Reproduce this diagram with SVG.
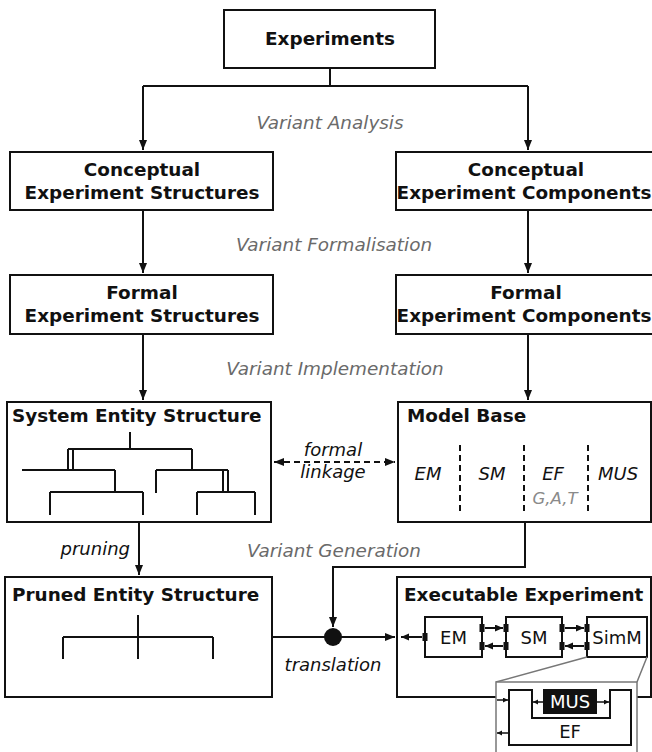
<svg xmlns="http://www.w3.org/2000/svg" width="652" height="752" viewBox="0 0 652 752">
<style>
.box{fill:#fff;stroke:#111;stroke-width:2}
.ln{fill:none;stroke:#111;stroke-width:2}
.b{font-family:"DejaVu Sans",sans-serif;font-weight:bold;font-size:18.4px;fill:#111}
.c{text-anchor:middle}
.lab{font-family:"DejaVu Sans",sans-serif;font-style:italic;font-size:18.4px;fill:#6a6a6a;text-anchor:middle}
.it{font-family:"DejaVu Sans",sans-serif;font-style:italic;font-size:18px;fill:#111}
.rg{font-family:"DejaVu Sans",sans-serif;font-size:18px;fill:#111;text-anchor:middle}
.port{fill:#111}
.gray{fill:none;stroke:#777;stroke-width:1.5}
</style>
<defs>
<marker id="ah" markerUnits="userSpaceOnUse" markerWidth="11" markerHeight="9" refX="10" refY="4" orient="auto"><path d="M0,0 L10,4 L0,8 z" fill="#111"/></marker>
<marker id="ahs" markerUnits="userSpaceOnUse" markerWidth="9" markerHeight="8" refX="8" refY="3.5" orient="auto"><path d="M0,0 L8,3.5 L0,7 z" fill="#111"/></marker>
<marker id="aht" markerUnits="userSpaceOnUse" markerWidth="6" markerHeight="6" refX="5" refY="2.5" orient="auto"><path d="M0,0 L5,2.5 L0,5 z" fill="#111"/></marker>
<marker id="ahb" markerUnits="userSpaceOnUse" markerWidth="11" markerHeight="9" refX="0" refY="4" orient="auto"><path d="M10,0 L0,4 L10,8 z" fill="#111"/></marker>
</defs>
<rect width="652" height="752" fill="#fff"/>

<g id="connectors">
<path class="ln" d="M330,68 V86 M143,86 H528"/>
<path class="ln" d="M143,86 V150" marker-end="url(#ah)"/>
<path class="ln" d="M528,86 V150" marker-end="url(#ah)"/>
<path class="ln" d="M143,210 V273" marker-end="url(#ah)"/>
<path class="ln" d="M528,210 V273" marker-end="url(#ah)"/>
<path class="ln" d="M143,334 V400" marker-end="url(#ah)"/>
<path class="ln" d="M528,334 V400" marker-end="url(#ah)"/>
<path class="ln" d="M139,522 V575" marker-end="url(#ah)"/>
<path class="ln" d="M274,462 H395" stroke-dasharray="6,4" marker-start="url(#ahb)" marker-end="url(#ah)"/>
<path class="ln" d="M525,522 V567 H333 V627" marker-end="url(#ah)"/>
<path class="ln" d="M272,637 H330"/>
<path class="ln" d="M340,637 H395" marker-end="url(#ah)"/>
<circle cx="333" cy="637" r="9" fill="#111"/>
</g>

<g id="labels">
<text class="lab" x="330" y="129">Variant Analysis</text>
<text class="lab" x="334" y="251">Variant Formalisation</text>
<text class="lab" x="335" y="375">Variant Implementation</text>
<text class="lab" x="334" y="557">Variant Generation</text>
<text class="it" x="130" y="555" text-anchor="end">pruning</text>
<text class="it" x="333" y="456" text-anchor="middle">formal</text>
<text class="it" x="333" y="478" text-anchor="middle">linkage</text>
<text class="it" x="333" y="671" text-anchor="middle">translation</text>
</g>

<g id="experiments">
<rect class="box" x="224" y="10" width="211" height="58"/>
<text class="b c" x="330" y="45">Experiments</text>
</g>

<g id="conceptual-structures">
<rect class="box" x="10" y="152" width="263" height="58"/>
<text class="b c" x="142" y="176">Conceptual</text>
<text class="b c" x="142" y="199">Experiment Structures</text>
</g>

<g id="conceptual-components">
<rect class="box" x="396" y="152" width="270" height="58"/>
<text class="b c" x="526" y="176">Conceptual</text>
<text class="b c" x="524" y="199">Experiment Components</text>
</g>

<g id="formal-structures">
<rect class="box" x="10" y="275" width="263" height="59"/>
<text class="b c" x="142" y="299">Formal</text>
<text class="b c" x="142" y="322">Experiment Structures</text>
</g>

<g id="formal-components">
<rect class="box" x="396" y="275" width="270" height="59"/>
<text class="b c" x="526" y="299">Formal</text>
<text class="b c" x="524" y="322">Experiment Components</text>
</g>

<g id="system-entity-structure">
<rect class="box" x="7" y="402" width="264" height="120"/>
<text class="b" x="12" y="422">System Entity Structure</text>
<path class="ln" d="M130,432 V449 M68,449 H192 M68,449 V470 M73,449 V470 M192,449 V470 M22,470 H115 M115,470 V492 M50,492 H143 M50,492 V515 M143,492 V515 M156,470 H228 M156,470 V493 M223,470 V492 M228,470 V492 M197,492 H255 M197,492 V515 M255,492 V515"/>
</g>

<g id="model-base">
<rect class="box" x="398" y="402" width="253" height="120"/>
<text class="b" x="407" y="422">Model Base</text>
<path class="ln" d="M460,445 V513 M524,445 V513 M588,445 V513" stroke-dasharray="6,4"/>
<text class="it" x="428" y="480" text-anchor="middle">EM</text>
<text class="it" x="492" y="480" text-anchor="middle">SM</text>
<text class="it" x="553" y="480" text-anchor="middle">EF</text>
<text class="it" x="618" y="480" text-anchor="middle">MUS</text>
<text class="it" x="555" y="504" text-anchor="middle" style="fill:#8a8a8a;font-size:16.5px">G,A,T</text>
</g>

<g id="pruned-entity-structure">
<rect class="box" x="5" y="577" width="267" height="120"/>
<text class="b" x="12" y="601">Pruned Entity Structure</text>
<path class="ln" d="M138,615 V659 M63,637 H213 M63,637 V659 M213,637 V659"/>
</g>

<g id="executable-experiment">
<rect class="box" x="397" y="577" width="254" height="120"/>
<text class="b" x="404" y="601">Executable Experiment</text>
<rect class="box" x="425" y="617" width="57" height="40"/>
<rect class="box" x="506" y="617" width="56" height="40"/>
<rect class="box" x="587" y="617" width="60" height="40"/>
<text class="rg" x="453.5" y="643.5">EM</text>
<text class="rg" x="534" y="643.5">SM</text>
<text class="rg" x="617" y="643.5">SimM</text>
<rect class="port" x="479.5" y="624" width="5" height="8"/>
<rect class="port" x="479.5" y="642" width="5" height="8"/>
<rect class="port" x="503.5" y="624" width="5" height="8"/>
<rect class="port" x="503.5" y="642" width="5" height="8"/>
<rect class="port" x="559.5" y="624" width="5" height="8"/>
<rect class="port" x="559.5" y="642" width="5" height="8"/>
<rect class="port" x="584.5" y="624" width="5" height="8"/>
<rect class="port" x="584.5" y="642" width="5" height="8"/>
<rect class="port" x="422.5" y="633" width="5" height="8"/>
<path class="ln" d="M485,628 H503" marker-end="url(#ahs)"/>
<path class="ln" d="M503,646 H485" marker-end="url(#ahs)"/>
<path class="ln" d="M565,628 H584" marker-end="url(#ahs)"/>
<path class="ln" d="M584,646 H565" marker-end="url(#ahs)"/>
<path class="ln" d="M422,637 H401" marker-end="url(#ahs)"/>
</g>

<g id="simm-zoom">
<path class="gray" d="M587,657 L496,682 M647,657 L637,682"/>
<rect x="496" y="682" width="141" height="80" fill="#fff" stroke="#777" stroke-width="1.5"/>
<path class="ln" d="M509,690 H532 V718 H610 V690 H631 V745 H509 Z"/>
<rect x="543" y="689" width="54" height="25" fill="#111"/>
<text class="rg" x="570" y="708" style="fill:#fff">MUS</text>
<text class="rg" x="570" y="738">EF</text>
<path d="M543,702 H533" stroke="#111" stroke-width="1.5" marker-end="url(#aht)"/>
<path d="M597,702 H609" stroke="#111" stroke-width="1.5" marker-end="url(#aht)"/>
<path d="M497,700 H508" stroke="#111" stroke-width="1.5" marker-end="url(#aht)"/>
<path d="M508,733 H497" stroke="#111" stroke-width="1.5" marker-end="url(#aht)"/>
</g>
</svg>
